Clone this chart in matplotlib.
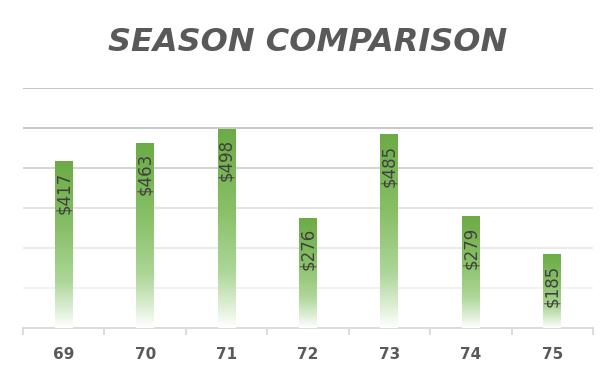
import numpy as np
import matplotlib.pyplot as plt
from matplotlib.colors import LinearSegmentedColormap
from matplotlib.patches import Rectangle

# Season data
seasons = ['69', '70', '71', '72', '73', '74', '75']
amounts = [417, 463, 498, 276, 485, 279, 185]

fig = plt.figure(figsize=(6.16, 3.76), dpi=100)
ax = fig.add_axes([0.0373, 0.1277, 0.9254, 0.6383])

# green to white gradient, top to bottom of each bar
cmap = LinearSegmentedColormap.from_list('fade', [
    (0.0, (0.42, 0.67, 0.27)),
    (0.4, (0.53, 0.75, 0.40)),
    (0.72, (0.68, 0.84, 0.60)),
    (0.88, (0.86, 0.93, 0.82)),
    (1.0, (1.0, 1.0, 1.0)),
])
grad = np.linspace(0, 1, 256).reshape(-1, 1)

x = np.arange(len(seasons))
width = 0.22
for xi, val in zip(x, amounts):
    clip = Rectangle((xi - width / 2, 0), width, val, transform=ax.transData,
                     facecolor='none', edgecolor='none')
    ax.add_patch(clip)
    im = ax.imshow(grad, cmap=cmap, aspect='auto', interpolation='bilinear',
                   extent=[xi - width / 2, xi + width / 2, 0, val], zorder=3)
    im.set_clip_path(clip)
    ax.text(xi, val - 26, f'${val}', rotation=90, ha='center', va='top',
            fontsize=12, color='#404040', zorder=4)

# gridlines get darker toward the top
grid_colors = ['#f0f0f0', '#e8e8e8', '#e0e0e0', '#d0d0d0', '#c4c4c4', '#bfbfbf']
for y, c in zip(range(100, 700, 100), grid_colors):
    ax.axhline(y, color=c, lw=1.3, zorder=1)

ax.set_xlim(-0.5, len(seasons) - 0.5)
ax.set_ylim(0, 600)

for s in ['top', 'right', 'left']:
    ax.spines[s].set_visible(False)
ax.spines['bottom'].set_color('#d9d9d9')
ax.spines['bottom'].set_linewidth(1.3)
ax.set_yticks([])

ax.set_xticks(x)
ax.set_xticklabels(seasons, fontsize=11, fontweight='bold', color='#595959')
ax.tick_params(axis='x', length=0, pad=14)
ax.set_xticks(np.arange(-0.5, len(seasons)), minor=True)
ax.tick_params(axis='x', which='minor', length=5, color='#d9d9d9', width=1.3)

fig.text(0.5, 0.888, 'SEASON COMPARISON', ha='center', va='center',
         fontsize=23, fontweight='bold', fontstyle='italic', color='#595959')

fig.savefig('out.png', dpi=100)
